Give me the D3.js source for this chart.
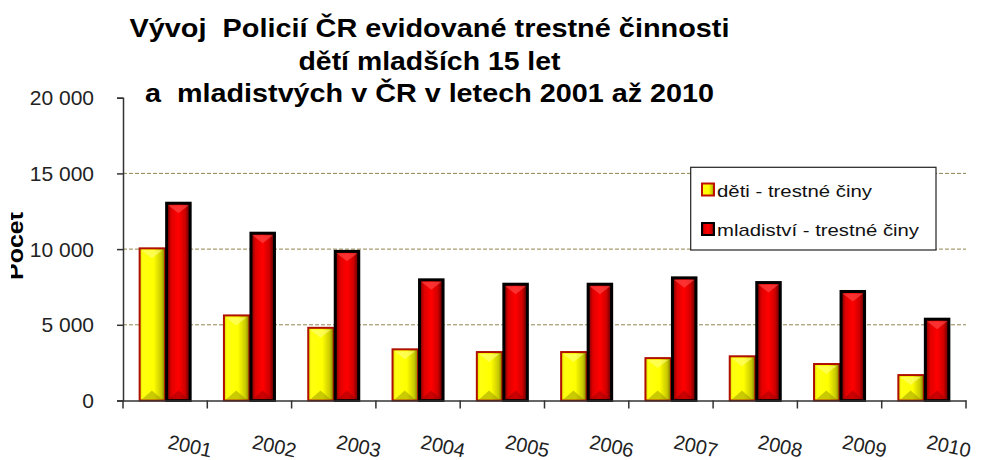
<!DOCTYPE html>
<html>
<head>
<meta charset="utf-8">
<script src="https://cdn.jsdelivr.net/npm/d3@7"></script>
<style>
  body { margin: 0; background: #fff; }
  text { font-family: "Liberation Sans", Arial, sans-serif; }
</style>
</head>
<body>
<div id="chart"></div>
<script>
// data
const years = ["2001","2002","2003","2004","2005","2006","2007","2008","2009","2010"];
const deti = [10050, 5620, 4800, 3380, 3200, 3200, 2800, 2920, 2410, 1680];
const mladistvi = [13030, 11050, 9850, 7970, 7680, 7680, 8100, 7790, 7200, 5370];
const seriesNames = ["děti - trestné činy", "mladiství - trestné činy"];
const yTicks = [0, 5000, 10000, 15000, 20000];
const titleLines = ["Vývoj  Policií ČR evidované trestné činnosti", "dětí mladších 15 let", "a  mladistvých v ČR v letech 2001 až 2010"];

const W = 990, H = 460;
const svg = d3.select("#chart").append("svg")
  .attr("width", W).attr("height", H);

const defs = svg.append("defs");
function grad(id, stops) {
  const g = defs.append("linearGradient").attr("id", id)
    .attr("x1", 0).attr("x2", 1).attr("y1", 0).attr("y2", 0);
  stops.forEach(s => g.append("stop").attr("offset", s[0]).attr("stop-color", s[1]));
}
grad("gYel", [[0, "#d8d800"], [0.12, "#ffff10"], [0.55, "#ffff00"], [0.85, "#c8c800"], [1, "#7a7a00"]]);
grad("gRed", [[0, "#700000"], [0.2, "#e00000"], [0.5, "#ff0000"], [0.78, "#d00000"], [1, "#500000"]]);

// scales
const x0 = d3.scaleBand().domain(years).range([123, 966]).padding(0);
const x1 = d3.scaleBand().domain([0, 1]).range([0, x0.bandwidth()]).paddingInner(0).paddingOuter(0.59);
const y = d3.scaleLinear().domain([0, 20000]).range([400.5, 97.7]);

// gridlines
svg.append("g").selectAll("line")
  .data(yTicks.filter(d => d > 0 && d < 20000))
  .join("line")
    .attr("x1", 123).attr("x2", 966)
    .attr("y1", d => y(d)).attr("y2", d => y(d))
    .attr("stroke", "#8f8550").attr("stroke-width", 1)
    .attr("stroke-dasharray", "4,2");

// bars
const rows = years.map((yr, i) => ({yr, vals: [deti[i], mladistvi[i]]}));
const groups = svg.append("g").selectAll("g")
  .data(rows).join("g")
    .attr("transform", d => `translate(${x0(d.yr)},0)`);

const barData = d => d.vals.map((v, k) => ({k, v}));
groups.selectAll("rect")
  .data(barData).join("rect")
    .attr("x", d => x1(d.k) + (d.k === 0 ? 1 : 1.5))
    .attr("y", d => y(d.v))
    .attr("width", d => x1.bandwidth() - (d.k === 0 ? 1 : 3))
    .attr("height", d => y(0) - y(d.v))
    .attr("fill", d => d.k === 0 ? "url(#gYel)" : "url(#gRed)")
    .attr("stroke", d => d.k === 0 ? "#b01000" : "#000")
    .attr("stroke-width", d => d.k === 0 ? 2 : 3);

// bevel highlights on top and shading at the bottom
groups.selectAll("path.top")
  .data(barData).join("path")
    .attr("class", "top")
    .attr("d", d => {
      const a = x1(d.k) + 3, b = x1(d.k) + x1.bandwidth() - 3, t = y(d.v) + 2;
      return `M${a},${t}L${b},${t}L${(a + b) / 2},${t + 8}Z`;
    })
    .attr("fill", d => d.k === 0 ? "#ffff80" : "#ff5050")
    .attr("opacity", 0.6);
groups.selectAll("path.bot")
  .data(barData).join("path")
    .attr("class", "bot")
    .attr("d", d => {
      const a = x1(d.k) + 3, b = x1(d.k) + x1.bandwidth() - 3, t = y(0) - 1;
      return `M${a},${t}L${b},${t}L${(a + b) / 2},${t - 9}Z`;
    })
    .attr("fill", d => d.k === 0 ? "#8a8a00" : "#900000")
    .attr("opacity", 0.45);

// y axis
const yAxis = svg.append("g")
  .attr("transform", "translate(123,0)")
  .call(d3.axisLeft(y).tickValues(yTicks).tickSize(6).tickPadding(0)
    .tickFormat(d => d3.format(",")(d).replace(",", " ")));
yAxis.select(".domain").attr("stroke", "#333").attr("stroke-width", 1.5);
yAxis.selectAll(".tick line").attr("stroke", "#333").attr("stroke-width", 1.5);
yAxis.selectAll(".tick text").remove();
svg.append("g").selectAll("text")
  .data(yTicks).join("text")
    .attr("x", 94).attr("y", d => y(d) + 7.5)
    .attr("text-anchor", "end")
    .attr("font-size", 21)
    .attr("fill", "#222")
    .text(d => d === 0 ? "0" : d3.format(",")(d).replace(",", " "));

// x axis
const xAxis = svg.append("g")
  .attr("transform", `translate(0,${y(0)})`)
  .call(d3.axisBottom(x0).tickSize(0).tickFormat(""));
xAxis.select(".domain").attr("stroke", "#333").attr("stroke-width", 1.5);
svg.append("g").selectAll("line")
  .data(years.map(d => x0(d)).concat([x0.range()[1]]))
  .join("line")
    .attr("x1", d => d).attr("x2", d => d)
    .attr("y1", y(0)).attr("y2", y(0) + 8)
    .attr("stroke", "#333").attr("stroke-width", 1.5);

svg.append("g").selectAll("text")
  .data(years).join("text")
    .attr("transform", d => `translate(${x0(d) + x0.bandwidth() / 2 + 25},${446}) rotate(12)`)
    .attr("text-anchor", "middle")
    .attr("dy", "0.35em")
    .attr("font-size", 20)
    .attr("fill", "#222")
    .text(d => d);

// y axis title, cut off at the left like in the original
defs.append("clipPath").attr("id", "clipL")
  .append("rect").attr("x", 11).attr("y", 0).attr("width", 200).attr("height", H);
svg.append("g").attr("clip-path", "url(#clipL)")
  .append("text")
    .attr("transform", "translate(22.7,280) rotate(-90)")
    .attr("font-size", 22)
    .attr("font-weight", "bold")
    .attr("textLength", 68)
    .attr("lengthAdjust", "spacingAndGlyphs")
    .text("Počet");

// title
const titleBase = [36.7, 70, 101.7];
const titleWidth = [600, 262, 569];
svg.append("g").selectAll("text")
  .data(titleLines).join("text")
    .attr("x", 429.5)
    .attr("y", (d, i) => titleBase[i])
    .attr("text-anchor", "middle")
    .attr("font-size", 25)
    .attr("font-weight", "bold")
    .attr("fill", "#000")
    .attr("textLength", (d, i) => titleWidth[i])
    .attr("lengthAdjust", "spacingAndGlyphs")
    .style("white-space", "pre")
    .text(d => d);

// legend
const leg = svg.append("g");
leg.append("rect")
  .attr("x", 690.7).attr("y", 167.3).attr("width", 245.3).attr("height", 82.7)
  .attr("fill", "#fff").attr("stroke", "#222").attr("stroke-width", 1.2);
const legRows = [189.5, 229];
const legWidth = [155, 202];
leg.selectAll("rect.m")
  .data(seriesNames).join("rect")
    .attr("class", "m")
    .attr("x", 702).attr("y", (d, i) => legRows[i] - 6)
    .attr("width", 12).attr("height", 12)
    .attr("fill", (d, i) => i === 0 ? "url(#gYel)" : "url(#gRed)")
    .attr("stroke", (d, i) => i === 0 ? "#c01000" : "#000")
    .attr("stroke-width", 2);
leg.selectAll("text")
  .data(seriesNames).join("text")
    .attr("x", 717)
    .attr("y", (d, i) => legRows[i] + 7)
    .attr("font-size", 17)
    .attr("fill", "#111")
    .attr("textLength", (d, i) => legWidth[i])
    .attr("lengthAdjust", "spacingAndGlyphs")
    .text(d => d);
</script>
</body>
</html>
